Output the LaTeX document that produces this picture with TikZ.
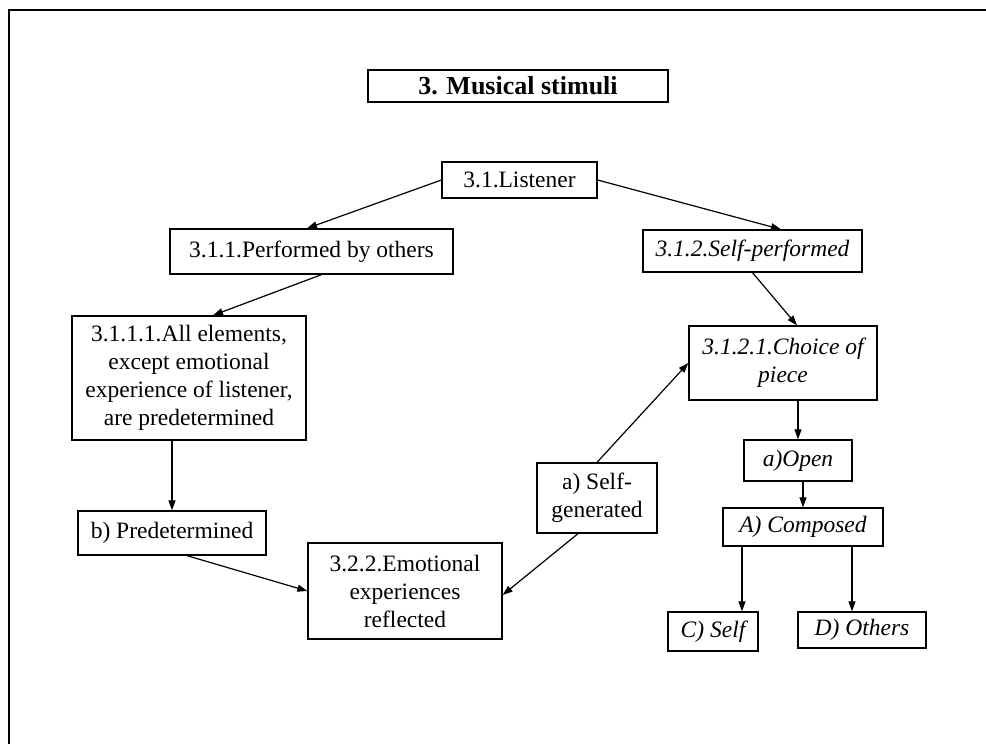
\documentclass[tikz,border=0pt]{standalone}
\usepackage{fontspec}
\setmainfont{Liberation Serif}
\usetikzlibrary{arrows.meta}

\tikzset{
  box/.style={draw, line width=1.3pt, inner sep=0pt, align=center,
              font=\fontsize{23.5pt}{28pt}\selectfont},
  ibox/.style={box, font=\fontsize{23.5pt}{28pt}\selectfont\itshape},
  titlebox/.style={box, font=\fontsize{26pt}{30pt}\selectfont\bfseries},
  arr/.style={line width=1.2pt, -{Triangle[length=10pt,width=7pt]}},
  frame/.style={line width=2.2pt}
}

\begin{document}
\begin{tikzpicture}[x=1pt, y=-1pt]
\useasboundingbox (0,0) rectangle (986,744);

% open frame: top and left edges only
\draw[frame] (9,744) -- (9,10) -- (986,10);

% title
\node[titlebox, minimum width=300pt, minimum height=32pt] (title) at (518,86) {3. Musical stimuli};

% listener branch
\node[box, minimum width=155pt, minimum height=36pt] (listener) at (519.5,180) {3.1.Listener};
\node[box, minimum width=283pt, minimum height=45pt] (perf) at (311.5,251.5) {3.1.1.Performed by others};
\node[ibox, minimum width=219pt, minimum height=42pt] (selfp) at (752.5,251) {3.1.2.Self-performed};

% left column
\node[box, minimum width=234pt, minimum height=124pt] (elem) at (189,378)
  {3.1.1.1.All elements,\\except emotional\\experience of listener,\\are predetermined};
\node[box, minimum width=188pt, minimum height=44pt] (pred) at (172,533) {b) Predetermined};
\node[box, minimum width=194pt, minimum height=96pt] (emo) at (405,591)
  {3.2.2.Emotional\\experiences\\reflected};
\node[box, minimum width=120pt, minimum height=70pt] (selfgen) at (597,498) {a) Self-\\generated};

% right column
\node[ibox, minimum width=188pt, minimum height=74pt] (choice) at (783,363) {3.1.2.1.Choice of\\piece};
\node[ibox, minimum width=108pt, minimum height=41pt] (open) at (798,460.5) {a)Open};
\node[ibox, minimum width=160pt, minimum height=38pt] (composed) at (803,527) {A) Composed};
\node[ibox, minimum width=90pt, minimum height=39pt] (cself) at (713,631.5) {C) Self};
\node[ibox, minimum width=128pt, minimum height=36pt] (dothers) at (862,630) {D) Others};

% connectors
\draw[arr] (listener.west) -- ([xshift=-4.5pt]perf.north);
\draw[arr] (listener.east) -- ([xshift=28.5pt]selfp.north);
\draw[arr] ([xshift=10pt]perf.south) -- ([xshift=24pt]elem.north);
\draw[arr] (elem.south -| pred.north) -- (pred.north);
\draw[arr] ([xshift=15pt]pred.south) -- (emo.west);
\draw[arr] (selfgen.north) -- (choice.west);
\draw[arr] ([xshift=-19pt]selfgen.south) -- ([yshift=-4pt]emo.east);
\draw[arr] (selfp.south) -- ([xshift=14pt]choice.north);
\draw[arr] (open.north |- choice.south) -- (open.north);
\draw[arr] (composed.north |- open.south) -- (composed.north);
\coordinate (cl) at ([xshift=-61pt]composed.south);
\coordinate (cr) at ([xshift=49pt]composed.south);
\draw[arr] (cl) -- (cl |- cself.north);
\draw[arr] (cr) -- (cr |- dothers.north);
\end{tikzpicture}
\end{document}
